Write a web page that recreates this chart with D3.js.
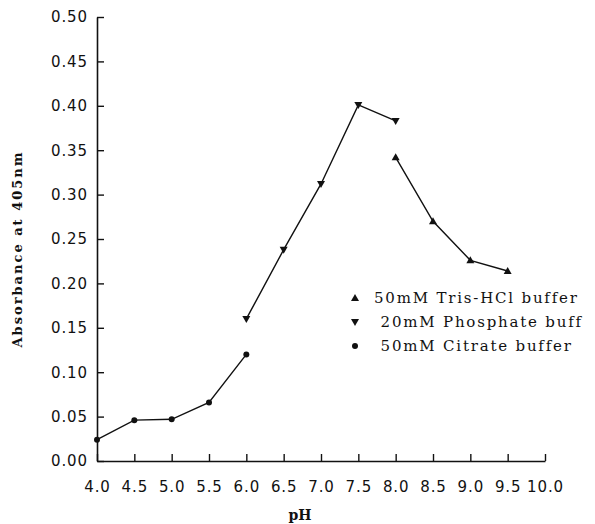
<!DOCTYPE html>
<html>
<head>
<meta charset="utf-8">
<script src="https://cdn.jsdelivr.net/npm/d3@7"></script>
<style>
  body { margin: 0; background: #fff; }
  .tick text { font-family: "DejaVu Sans", sans-serif; font-size: 15px; fill: #111; letter-spacing: 0.9px; }
</style>
</head>
<body>
<div class="chart"></div>
<script>
// data
var citratePH = [4.0, 4.5, 5.0, 5.5, 6.0];
var citrateAbs = [0.024, 0.046, 0.047, 0.066, 0.120];
var phosphatePH = [6.0, 6.5, 7.0, 7.5, 8.0];
var phosphateAbs = [0.160, 0.238, 0.312, 0.401, 0.383];
var trisPH = [8.0, 8.5, 9.0, 9.5];
var trisAbs = [0.342, 0.270, 0.226, 0.214];
var xTicks = [4.0, 4.5, 5.0, 5.5, 6.0, 6.5, 7.0, 7.5, 8.0, 8.5, 9.0, 9.5, 10.0];
var yTicks = [0, 0.05, 0.10, 0.15, 0.20, 0.25, 0.30, 0.35, 0.40, 0.45, 0.50];
var legendLabels = ['50mM Tris-HCl buffer', ' 20mM Phosphate buff', ' 50mM Citrate buffer'];

var margin = { top: 17, right: 50, bottom: 63, left: 97 };
var width = 595 - margin.left - margin.right;
var height = 524 - margin.top - margin.bottom;

var svg = d3.select('.chart')
  .append('svg')
  .attr('width', 595)
  .attr('height', 524)
  .append('g')
  .attr('transform', `translate(${margin.left}, ${margin.top})`);

var xScale = d3.scaleLinear().domain([4, 10]).range([0, width]);
var yScale = d3.scaleLinear().domain([0, 0.5]).range([height, 0]);

var xAxis = svg.append('g')
  .attr('transform', `translate(0, ${height})`)
  .call(d3.axisBottom(xScale).tickValues(xTicks).tickFormat(d3.format('.1f'))
    .tickSizeInner(-7).tickSizeOuter(0).tickPadding(20));

var yAxis = svg.append('g')
  .call(d3.axisLeft(yScale).tickValues(yTicks).tickFormat(d3.format('.2f'))
    .tickSizeInner(-7).tickSizeOuter(0).tickPadding(9));

[xAxis, yAxis].forEach(a => {
  a.select('.domain').attr('stroke', '#111').attr('stroke-width', 1.6);
  a.selectAll('.tick line').attr('stroke', '#111').attr('stroke-width', 1.4);
});

var line = d3.line()
  .x(d => xScale(d[0]))
  .y(d => yScale(d[1]));

var series = [
  { x: citratePH, y: citrateAbs, shape: 'circle' },
  { x: phosphatePH, y: phosphateAbs, shape: 'down' },
  { x: trisPH, y: trisAbs, shape: 'up' }
];

function marker(g, shape) {
  if (shape == 'circle') {
    g.append('circle').attr('r', 3).style('fill', '#111');
  } else {
    var s = shape == 'up' ? 1 : -1;
    g.append('path')
      .attr('d', `M0,${-4 * s}L4,${3 * s}L-4,${3 * s}Z`)
      .style('fill', '#111');
  }
}

series.forEach(sr => {
  var pts = sr.x.map((v, i) => [v, sr.y[i]]);
  svg.append('path')
    .attr('d', line(pts))
    .style('stroke', '#111')
    .style('stroke-width', 1.4)
    .style('fill', 'none');
  svg.selectAll('.m-' + sr.shape)
    .data(pts)
    .enter()
    .append('g')
    .attr('class', 'm-' + sr.shape)
    .attr('transform', d => `translate(${xScale(d[0])}, ${yScale(d[1])})`)
    .each(function() { marker(d3.select(this), sr.shape); });
});

// legend
var legendShapes = ['up', 'down', 'circle'];
legendLabels.forEach((t, i) => {
  var g = svg.append('g').attr('transform', `translate(${355 - margin.left}, ${298 + i * 24 - margin.top})`);
  marker(g, legendShapes[i]);
  g.append('text')
    .attr('x', 19)
    .attr('y', 5)
    .style('font-family', '"DejaVu Serif", serif')
    .style('font-size', '15px')
    .style('letter-spacing', '1.8px')
    .style('white-space', 'pre')
    .style('fill', '#111')
    .text(t);
});

// axis titles
svg.append('text')
  .attr('transform', `translate(${22 - margin.left}, ${height / 2 + 10}) rotate(-90)`)
  .style('text-anchor', 'middle')
  .style('font-family', '"DejaVu Serif", serif')
  .style('font-weight', 'bold')
  .style('font-size', '13px')
  .style('letter-spacing', '2px')
  .style('fill', '#111')
  .text('Absorbance at 405nm');

svg.append('text')
  .attr('x', 300 - margin.left)
  .attr('y', 520 - margin.top)
  .style('text-anchor', 'middle')
  .style('font-family', '"DejaVu Serif", serif')
  .style('font-weight', 'bold')
  .style('font-size', '14px')
  .style('fill', '#111')
  .text('pH');
</script>
</body>
</html>
